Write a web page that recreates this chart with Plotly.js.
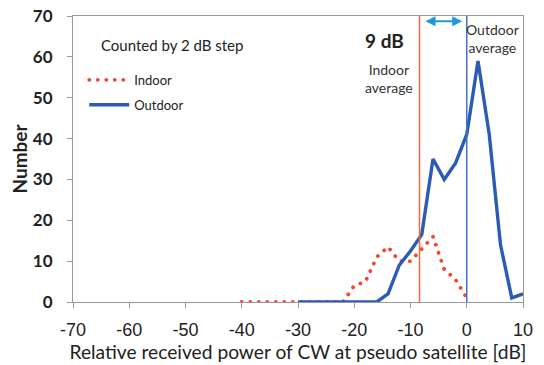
<!DOCTYPE html>
<html>
<head>
<meta charset="utf-8">
<script src="https://cdn.plot.ly/plotly-3.0.1.min.js"></script>
<style>
html,body{margin:0;padding:0;background:#fff;}
#chart{width:544px;height:365px;}
.js-line[style*="dasharray"]{stroke-linecap:round;}
</style>
</head>
<body>
<div id="chart"></div>
<script>
// Relative received power bins (dB), counted by 2 dB step
const indoorX = [-40,-38,-36,-34,-32,-30,-28,-26,-24,-22,-20,-18,-16,-14,-12,-10,-8,-6,-4,-2,0];
const indoorY = [0,0,0,0,0,0,0,0,0,0,4,5,11,13.5,10,10,13,16,8,5.5,1];
const outdoorX = [-30,-28,-26,-24,-22,-20,-18,-16,-14,-12,-10,-8,-6,-4,-2,0,2,4,6,8,10];
const outdoorY = [0,0,0,0,0,0,0,0,2,9,12.5,16.5,35,30,34,41,59,41,14,1,2];
const indoorAverage = -8.4;
const outdoorAverage = 0;
const xTicks = [-70,-60,-50,-40,-30,-20,-10,0,10];
const xTickText = ['-70','-60','-50','-40','-30','-20','-10','0','10'];
const yTicks = [0,10,20,30,40,50,60,70];

const calibriLike = 'Lato, "Open Sans", sans-serif';
const arialLike = '"Liberation Sans", Arial, sans-serif';

const traces = [
  {
    x: indoorX, y: indoorY, type: 'scatter', mode: 'lines', name: 'Indoor',
    legendgroup: 'a',
    line: {color: '#F4472F', width: 3.8, dash: '0.1px,8.4px'}
  },
  {
    x: outdoorX, y: outdoorY, type: 'scatter', mode: 'lines', name: 'Outdoor',
    legendgroup: 'b',
    line: {color: '#2A5BB5', width: 3.4}
  }
];

const layout = {
  width: 544, height: 365,
  margin: {l: 73, r: 21, t: 16, b: 63},
  paper_bgcolor: '#fff', plot_bgcolor: '#fff',
  showlegend: true,
  legend: {
    x: 0.025, y: 0.829, xanchor: 'left', yanchor: 'top', itemwidth: 40,
    bgcolor: 'rgba(0,0,0,0)', traceorder: 'grouped', tracegroupgap: 5,
    font: {family: calibriLike, size: 13, color: '#222'}
  },
  xaxis: {
    range: [-70, 10], tickvals: xTicks, ticktext: xTickText, ticks: 'outside', ticklen: 5, tickcolor: '#999',
    showline: true, linecolor: '#999', linewidth: 1, mirror: true,
    showgrid: false, zeroline: false,
    ticklabelstandoff: 6,
    tickfont: {family: arialLike, size: 18, color: '#222'},
    title: {text: 'Relative received power of CW at pseudo satellite [dB]',
            font: {family: calibriLike, size: 19.2, color: '#222'}, standoff: 6}
  },
  yaxis: {
    range: [0, 70], tickvals: yTicks, ticks: 'outside', ticklen: 5, tickcolor: '#999',
    showline: true, linecolor: '#999', linewidth: 1, mirror: true,
    showgrid: false, zeroline: false,
    tickfont: {family: calibriLike, size: 17, color: '#222', weight: 'bold'},
    ticklabelstandoff: 11,
    title: {text: 'Number', font: {family: calibriLike, size: 19, color: '#222', weight: 'bold'}, standoff: 0}
  },
  shapes: [
    {type: 'line', xref: 'x', yref: 'paper', x0: indoorAverage, x1: indoorAverage, y0: 0, y1: 1,
     line: {color: '#F26A3A', width: 1.5}},
    {type: 'line', xref: 'x', yref: 'paper', x0: outdoorAverage, x1: outdoorAverage, y0: 0, y1: 1,
     line: {color: '#4472C4', width: 1.5}}
  ],
  annotations: [
    {text: 'Counted by 2 dB step', xref: 'paper', yref: 'paper', x: 0.058, y: 0.9, xanchor: 'left', yanchor: 'middle',
     showarrow: false, font: {family: calibriLike, size: 15, color: '#222'}},
    {text: '9 dB', xref: 'x', yref: 'paper', x: -14.7, y: 0.915, xanchor: 'center', yanchor: 'middle',
     showarrow: false, font: {family: calibriLike, size: 19, color: '#222', weight: 'bold'}},
    {text: 'Indoor<br>average', xref: 'x', yref: 'paper', x: -13.8, y: 0.78, xanchor: 'center', yanchor: 'middle',
     showarrow: false, align: 'center', font: {family: calibriLike, size: 14, color: '#333'}},
    {text: 'Outdoor<br>average', xref: 'x', yref: 'paper', x: 4.6, y: 0.92, xanchor: 'center', yanchor: 'middle',
     showarrow: false, align: 'center', font: {family: calibriLike, size: 14, color: '#333'}},
    {text: '', xref: 'x', yref: 'paper', x: -0.8, y: 0.982, axref: 'x', ayref: 'paper', ax: -7.6, ay: 0.982,
     showarrow: true, arrowside: 'end+start', arrowhead: 2, startarrowhead: 2, arrowsize: 1, startarrowsize: 1,
     arrowwidth: 2, arrowcolor: '#1E9AD6', standoff: 0, startstandoff: 0}
  ]
};

Plotly.newPlot('chart', traces, layout, {staticPlot: true, displayModeBar: false});
</script>
</body>
</html>
